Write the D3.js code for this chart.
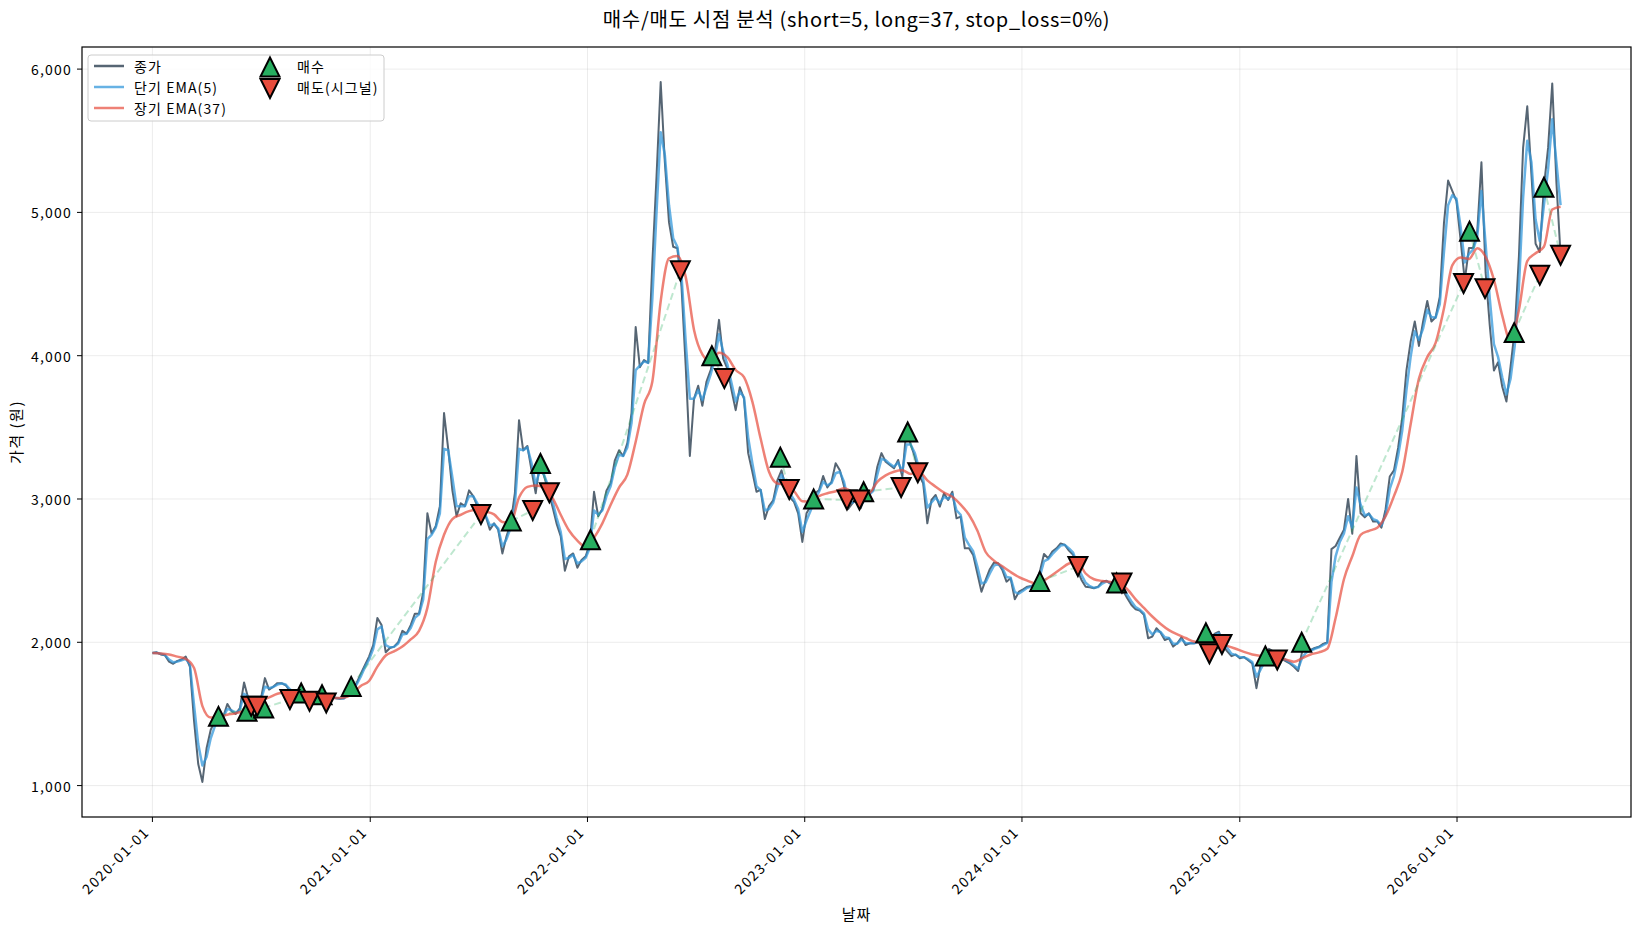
<!DOCTYPE html>
<html><head><meta charset="utf-8">
<script src="https://cdn.jsdelivr.net/npm/d3@7"></script>
<style>
body{margin:0;background:#fff;}
text{font-family:"Noto Sans CJK KR","Noto Sans",sans-serif;fill:#000;}
</style></head><body>
<svg id="chart" width="1641" height="930"></svg>
<script>
// ---------------- data ----------------
const chartTitle = "매수/매도 시점 분석 (short=5, long=37, stop_loss=0%)";
const startDate = "2020-01-01";          // weekly samples start here
const weekStepDays = 7;                  // close / short EMA sampling
const longStepDays = 14;                 // long EMA sampling

const closePrice = [
1925,1930,1915,1910,1865,1850,1870,1880,1900,1830,
1450,1150,1025,1260,1390,1450,1490,1480,1570,1520,
1500,1540,1720,1610,1560,1580,1600,1750,1670,1690,
1715,1715,1700,1660,1635,1645,1635,1620,1600,1625,
1610,1600,1610,1620,1610,1605,1610,1645,1680,1715,
1780,1840,1900,1980,2170,2120,1930,1960,1970,2000,
2080,2060,2120,2200,2200,2350,2900,2760,2810,2950,
3600,3350,3060,2880,2970,2950,3060,3020,2950,2890,
2880,2785,2830,2785,2620,2740,2830,3040,3550,3340,
3370,3200,3040,3250,3160,3060,2950,2830,2740,2500,
2600,2620,2520,2575,2600,2690,3050,2880,2930,3060,
3110,3270,3340,3300,3390,3600,4200,3920,3970,3950,
4650,5250,5910,5350,4930,4760,4750,4480,3930,3300,
3700,3790,3650,3820,3900,4020,4250,3980,3910,3760,
3620,3780,3700,3320,3190,3050,3065,2860,2950,2990,
3130,3200,3080,3010,2980,2900,2700,2900,2950,3040,
3060,3160,3080,3120,3250,3200,3090,2930,2970,3000,
2935,3016,3040,3063,3225,3320,3260,3237,3214,3272,
3156,3500,3380,3295,3167,3110,2830,2993,3028,2947,
3040,2993,3051,2865,2877,2656,2656,2610,2481,2353,
2435,2510,2556,2551,2505,2423,2447,2300,2353,2370,
2388,2393,2407,2493,2616,2586,2633,2656,2690,2680,
2640,2610,2505,2435,2388,2384,2377,2388,2423,2430,
2407,2430,2393,2360,2307,2260,2230,2221,2191,2028,
2040,2098,2067,2016,2028,1970,1993,2035,1981,1993,
1993,2005,2020,2031,2030,2060,2074,1974,1937,1903,
1914,1889,1897,1875,1852,1680,1846,1889,1954,1937,
1909,1886,1869,1852,1829,1800,1940,1946,1946,1960,
1969,1989,2000,2650,2672,2729,2786,3000,2758,3300,
2900,2872,2900,2843,2843,2800,2929,3157,3200,3356,
3570,3897,4097,4239,4068,4239,4382,4239,4268,4410,
4923,5222,5150,5080,4809,4524,4752,4752,4866,5350,
4581,4211,3897,3954,3783,3680,3926,4182,4695,5450,
5740,5265,4781,4724,5180,5450,5900,5208,4700
];

const emaShort = [
1925,1927,1920,1912,1880,1860,1865,1875,1885,1845,
1560,1290,1140,1200,1330,1415,1465,1478,1535,1525,
1508,1528,1640,1620,1580,1578,1592,1690,1680,1688,
1705,1712,1705,1672,1647,1643,1638,1626,1608,1618,
1612,1604,1607,1615,1612,1607,1608,1635,1668,1705,
1760,1825,1880,1955,2090,2110,1980,1965,1968,1992,
2055,2060,2100,2170,2195,2300,2720,2750,2800,2900,
3350,3340,3150,2950,2950,2950,3020,3020,2970,2910,
2885,2815,2825,2795,2670,2720,2800,2960,3350,3340,
3360,3250,3100,3200,3170,3090,2990,2870,2770,2580,
2590,2610,2550,2565,2590,2660,2920,2890,2920,3020,
3090,3220,3310,3300,3360,3530,3900,3930,3960,3950,
4400,5000,5560,5400,5050,4820,4760,4560,4100,3700,
3700,3760,3690,3780,3870,3980,4150,4030,3940,3810,
3680,3750,3710,3430,3250,3090,3060,2920,2930,2975,
3080,3170,3110,3040,2995,2930,2770,2850,2920,3000,
3050,3120,3095,3110,3180,3190,3120,2990,2975,2990,
2955,2995,3030,3055,3170,3280,3270,3245,3225,3255,
3190,3380,3380,3320,3215,3140,2940,2975,3010,2970,
3015,3000,3035,2920,2890,2730,2680,2635,2530,2410,
2420,2480,2535,2545,2520,2455,2450,2350,2340,2360,
2380,2390,2400,2460,2565,2580,2615,2645,2675,2680,
2655,2625,2545,2470,2415,2392,2380,2385,2410,2425,
2414,2424,2405,2375,2330,2285,2245,2228,2202,2090,
2055,2080,2072,2035,2030,1990,1990,2020,1995,1993,
1993,2000,2012,2025,2028,2050,2065,2005,1960,1920,
1912,1897,1895,1882,1862,1760,1810,1865,1925,1935,
1918,1895,1877,1860,1838,1815,1895,1930,1942,1955,
1965,1980,1995,2420,2600,2700,2760,2880,2800,3080,
2960,2885,2895,2860,2848,2815,2890,3070,3160,3300,
3480,3760,3990,4170,4110,4190,4320,4270,4265,4360,
4720,5050,5120,5095,4900,4650,4710,4740,4830,5150,
4780,4400,4080,3990,3850,3730,3840,4070,4480,5100,
5500,5350,4950,4800,5050,5300,5650,5350,5050
];

const emaLong = [
1925,1922,1915,1900,1885,1820,1555,1475,1482,1495,
1505,1522,1555,1590,1615,1641,1650,1640,1625,1620,
1615,1611,1611,1615,1640,1695,1730,1830,1908,1937,
1970,2020,2080,2240,2560,2750,2860,2890,2915,2925,
2912,2893,2840,2835,3010,3085,3095,3080,3010,2890,
2780,2710,2665,2730,2830,2960,3080,3170,3400,3660,
3820,4380,4680,4695,4550,4180,4010,3960,4020,3990,
3900,3850,3680,3420,3190,3108,3100,3055,2985,2982,
3020,3040,3054,3075,3050,3035,3040,3120,3165,3190,
3200,3175,3190,3130,3086,3045,3015,2960,2890,2780,
2630,2570,2530,2490,2455,2430,2410,2432,2470,2512,
2550,2560,2480,2440,2428,2420,2410,2370,2300,2240,
2180,2128,2085,2055,2030,2005,1995,1992,1989,1975,
1955,1933,1915,1905,1898,1888,1880,1865,1889,1915,
1930,1955,2170,2440,2600,2750,2778,2800,2880,3020,
3190,3520,3840,3990,4090,4330,4630,4685,4675,4750,
4690,4530,4280,4100,4320,4660,4715,4760,5020,5040
];

const buyDates = ["2020-04-21","2020-06-08","2020-07-06","2020-09-07","2020-10-12","2020-11-30",
  "2021-08-26","2021-10-14","2022-01-06","2022-07-29","2022-11-21","2023-01-16","2023-04-10",
  "2023-06-23","2024-01-31","2024-06-08","2024-11-05","2025-02-13","2025-04-15","2026-01-22",
  "2026-04-07","2026-05-27"];
const buyPrices = [1483,1518,1542,1646,1634,1692,2847,3248,2716,4000,3292,3000,3051,3467,
  2425,2413,2066,1905,2000,4869,4161,5176];

const sellDates = ["2020-06-15","2020-06-25","2020-08-19","2020-09-21","2020-10-19","2021-07-06",
  "2021-10-01","2021-10-29","2022-06-06","2022-08-19","2022-12-06","2023-03-13","2023-04-03",
  "2023-06-12","2023-07-10","2024-04-04","2024-06-17","2024-11-11","2024-12-02","2025-03-05",
  "2026-01-12","2026-02-17","2026-05-20","2026-06-24"];
const sellPrices = [1553,1553,1600,1588,1577,2891,2920,3044,4592,3840,3066,2993,2993,3080,3183,
  2529,2413,1920,1985,1876,4504,4468,4562,4701];

const yTicks = [1000,2000,3000,4000,5000,6000];
const xTickLabels = ["2020-01-01","2021-01-01","2022-01-01","2023-01-01","2024-01-01","2025-01-01","2026-01-01"];
const legendLines = ["종가","단기 EMA(5)","장기 EMA(37)"];
const legendMarkers = ["매수","매도(시그널)"];

// ---------------- layout ----------------
const W = 1641, H = 930;
const plot = {left: 82, right: 1631, top: 47, bottom: 817};
const col = {price: "#2c3e50", short: "#3498db", long: "#e74c3c", buy: "#27ae60", sell: "#e74c3c"};

const svg = d3.select("#chart");
svg.append("rect").attr("width", W).attr("height", H).attr("fill", "#fff");

const parse = d3.utcParse("%Y-%m-%d");
const t0 = parse(startDate);
const priceData = closePrice.map((v, i) => ({d: d3.utcDay.offset(t0, weekStepDays * i), v}));
const shortData = emaShort.map((v, i) => ({d: d3.utcDay.offset(t0, weekStepDays * i), v}));
const longData = emaLong.map((v, i) => ({d: d3.utcDay.offset(t0, longStepDays * i), v}));
const buys = buyDates.map((s, i) => ({d: parse(s), v: buyPrices[i]}));
const sells = sellDates.map((s, i) => ({d: parse(s), v: sellPrices[i]}));

const tMin = priceData[0].d, tMax = priceData[priceData.length - 1].d;
const tPad = (tMax - tMin) * 0.05;
const x = d3.scaleUtc().domain([new Date(+tMin - tPad), new Date(+tMax + tPad)]).range([plot.left, plot.right]);
const allV = closePrice.concat(emaShort, emaLong);
const vMin = d3.min(allV), vMax = d3.max(allV), vPad = (vMax - vMin) * 0.05;
const y = d3.scaleLinear().domain([vMin - vPad, vMax + vPad]).range([plot.bottom, plot.top]);

const xTickDates = xTickLabels.map(parse);

svg.append("defs").append("clipPath").attr("id", "clip").append("rect")
  .attr("x", plot.left).attr("y", plot.top).attr("width", plot.right - plot.left).attr("height", plot.bottom - plot.top);

// grid
const grid = svg.append("g");
grid.selectAll(".gx").data(xTickDates).join("line")
  .attr("x1", d => x(d)).attr("x2", d => x(d)).attr("y1", plot.top).attr("y2", plot.bottom)
  .attr("stroke", "#b0b0b0").attr("stroke-opacity", 0.3).attr("stroke-width", 0.8);
grid.selectAll(".gy").data(yTicks).join("line")
  .attr("x1", plot.left).attr("x2", plot.right).attr("y1", d => y(d)).attr("y2", d => y(d))
  .attr("stroke", "#b0b0b0").attr("stroke-opacity", 0.3).attr("stroke-width", 0.8);

const g = svg.append("g").attr("clip-path", "url(#clip)");
const line = d3.line().x(d => x(d.d)).y(d => y(d.v));
const smooth = d3.line().x(d => x(d.d)).y(d => y(d.v)).curve(d3.curveMonotoneX);

g.append("path").datum(priceData).attr("d", line).attr("fill", "none")
  .attr("stroke", col.price).attr("stroke-opacity", 0.8).attr("stroke-width", 2).attr("stroke-linejoin", "round");
g.append("path").datum(shortData).attr("d", line).attr("fill", "none")
  .attr("stroke", col.short).attr("stroke-opacity", 0.75).attr("stroke-width", 2.5).attr("stroke-linejoin", "round");
g.append("path").datum(longData).attr("d", smooth).attr("fill", "none")
  .attr("stroke", col.long).attr("stroke-opacity", 0.7).attr("stroke-width", 2.5);

// trade lines: each buy to the next sell
const trades = [];
buys.forEach(b => {
  const s = sells.find(s => s.d > b.d);
  if (s) trades.push([b, s]);
});
g.selectAll(".trade").data(trades).join("line")
  .attr("x1", d => x(d[0].d)).attr("y1", d => y(d[0].v))
  .attr("x2", d => x(d[1].d)).attr("y2", d => y(d[1].v))
  .attr("stroke", col.buy).attr("stroke-opacity", 0.3).attr("stroke-width", 2)
  .attr("stroke-dasharray", "7,4");

const triUp = "M0,-9.5L-9.5,9.5L9.5,9.5Z";
const triDown = "M0,9.5L-9.5,-9.5L9.5,-9.5Z";
svg.selectAll(".buy").data(buys).join("path")
  .attr("transform", d => `translate(${x(d.d)},${y(d.v)})`).attr("d", triUp)
  .attr("fill", col.buy).attr("stroke", "#000").attr("stroke-width", 2).attr("stroke-linejoin", "miter");
svg.selectAll(".sell").data(sells).join("path")
  .attr("transform", d => `translate(${x(d.d)},${y(d.v)})`).attr("d", triDown)
  .attr("fill", col.sell).attr("stroke", "#000").attr("stroke-width", 2).attr("stroke-linejoin", "miter");

// frame
svg.append("rect").attr("x", plot.left).attr("y", plot.top)
  .attr("width", plot.right - plot.left).attr("height", plot.bottom - plot.top)
  .attr("fill", "none").attr("stroke", "#000").attr("stroke-width", 1.2);

// axes
const fmt = d3.format(",");
const yAx = svg.append("g");
yAx.selectAll("line").data(yTicks).join("line")
  .attr("x1", plot.left - 5).attr("x2", plot.left).attr("y1", d => y(d)).attr("y2", d => y(d))
  .attr("stroke", "#000").attr("stroke-width", 1);
yAx.selectAll("text").data(yTicks).join("text")
  .attr("x", plot.left - 10).attr("y", d => y(d)).attr("text-anchor", "end")
  .attr("dominant-baseline", "central").attr("font-size", 14).attr("letter-spacing", 1.2).text(d => fmt(d));

const xAx = svg.append("g");
xAx.selectAll("line").data(xTickDates).join("line")
  .attr("x1", d => x(d)).attr("x2", d => x(d)).attr("y1", plot.bottom).attr("y2", plot.bottom + 5)
  .attr("stroke", "#000").attr("stroke-width", 1);
xAx.selectAll("text").data(xTickDates).join("text")
  .attr("transform", d => `translate(${x(d) - 2},${plot.bottom + 16}) rotate(-45)`)
  .attr("text-anchor", "end").attr("font-size", 14).attr("letter-spacing", 1.6).text((d, i) => xTickLabels[i]);

// labels
svg.append("text").attr("x", (plot.left + plot.right) / 2).attr("y", 18)
  .attr("text-anchor", "middle").attr("dominant-baseline", "central").attr("font-size", 20)
  .attr("letter-spacing", 0.7).text(chartTitle);
svg.append("text").attr("x", (plot.left + plot.right) / 2).attr("y", 913)
  .attr("text-anchor", "middle").attr("dominant-baseline", "central").attr("font-size", 15)
  .attr("letter-spacing", 1).text("날짜");
svg.append("text").attr("transform", `translate(15,${(plot.top + plot.bottom) / 2}) rotate(-90)`)
  .attr("text-anchor", "middle").attr("dominant-baseline", "central").attr("font-size", 15)
  .attr("letter-spacing", 1.5).text("가격 (원)");

// legend
const lg = svg.append("g");
lg.append("rect").attr("x", 88).attr("y", 55).attr("width", 296).attr("height", 66).attr("rx", 3)
  .attr("fill", "#fff").attr("fill-opacity", 0.8).attr("stroke", "#cccccc").attr("stroke-width", 1);
const lgCols = [[col.price, 0.8], [col.short, 0.75], [col.long, 0.7]];
legendLines.forEach((t, i) => {
  const yy = 66 + i * 21;
  lg.append("line").attr("x1", 94).attr("x2", 124).attr("y1", yy).attr("y2", yy)
    .attr("stroke", lgCols[i][0]).attr("stroke-opacity", lgCols[i][1]).attr("stroke-width", 2.5);
  lg.append("text").attr("x", 134).attr("y", yy).attr("dominant-baseline", "central")
    .attr("font-size", 14).attr("letter-spacing", 1.1).text(t);
});
legendMarkers.forEach((t, i) => {
  const yy = 67 + i * 21.5;
  lg.append("path").attr("transform", `translate(270,${yy})`).attr("d", i === 0 ? triUp : triDown)
    .attr("fill", i === 0 ? col.buy : col.sell).attr("stroke", "#000").attr("stroke-width", 2);
  lg.append("text").attr("x", 297).attr("y", 66 + i * 21).attr("dominant-baseline", "central")
    .attr("font-size", 14).attr("letter-spacing", 1.1).text(t);
});
</script>
</body></html>
